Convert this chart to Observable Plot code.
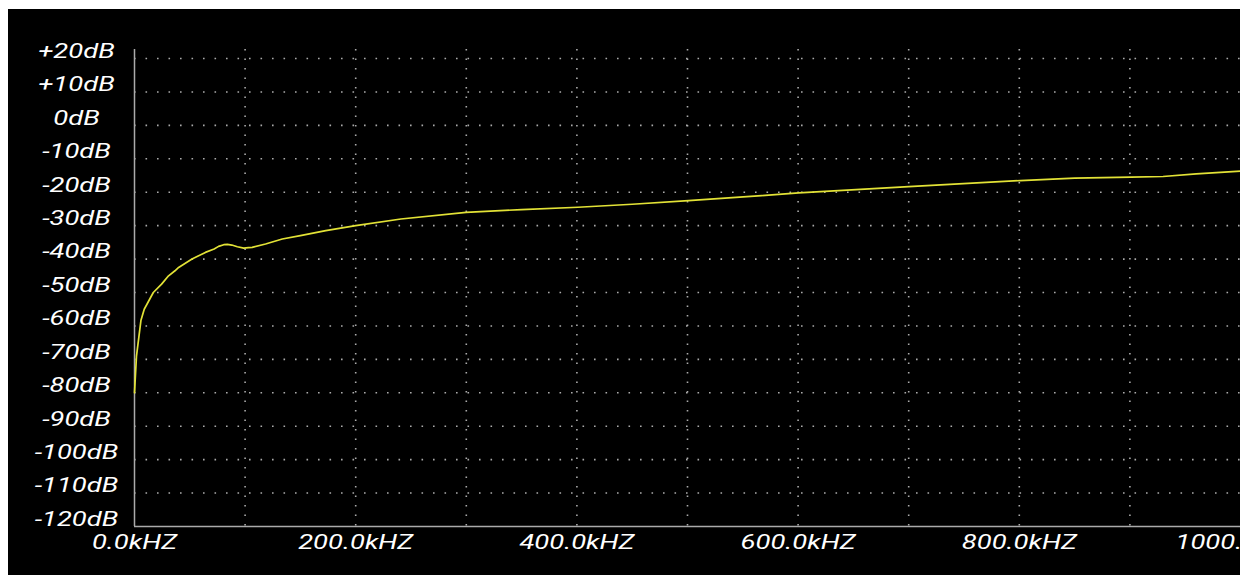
<!DOCTYPE html>
<html>
<head>
<meta charset="utf-8">
<script src="https://cdn.jsdelivr.net/npm/d3@7"></script>
<script src="https://cdn.jsdelivr.net/npm/@observablehq/plot@0.6"></script>
<style>
  html, body { margin: 0; padding: 0; background: white; overflow: hidden; }
  #chart { position: absolute; left: 8px; top: 9px; }
</style>
</head>
<body>
<div id="chart"></div>
<script>
// Frequency response (kHz -> dB)
const freqKHz = [0, 1.8, 5.8, 8.8, 17, 24.5, 30.8, 36.6, 39.9, 52, 64.1, 72, 76, 80.7, 84, 88, 93, 98.8, 103, 106.4, 118.5, 133.6, 150, 172.9, 200, 240.9, 299.8, 350, 401, 450, 500.8, 567, 600.5, 700, 801, 850, 901, 930, 960, 1000];
const gainDB  = [-80, -69, -58.4, -55, -50, -47.5, -45, -43.5, -42.5, -40, -38, -37, -36.2, -35.7, -35.6, -35.8, -36.3, -36.7, -36.6, -36.5, -35.5, -34, -33, -31.5, -30, -28, -26, -25.2, -24.5, -23.6, -22.5, -21, -20.2, -18.3, -16.5, -15.8, -15.5, -15.3, -14.5, -13.7];

const yTicks = [20, 10, 0, -10, -20, -30, -40, -50, -60, -70, -80, -90, -100, -110, -120];
const yTickLabels = ["+20dB", "+10dB", "0dB", "-10dB", "-20dB", "-30dB", "-40dB", "-50dB", "-60dB", "-70dB", "-80dB", "-90dB", "-100dB", "-110dB", "-120dB"];
const xTicks = [0, 200, 400, 600, 800, 1000];
const xTickLabels = ["0.0kHZ", "200.0kHZ", "400.0kHZ", "600.0kHZ", "800.0kHZ", "1000.0kHZ"];
const xGrid = [100, 200, 300, 400, 500, 600, 700, 800, 900];
const yGrid = [20, 10, 0, -10, -20, -30, -40, -50, -60, -70, -80, -90, -100, -110];

const data = freqKHz.map((f, i) => ({f, db: gainDB[i]}));

const labelFont = {fontSize: 20, fontStyle: "italic", fontFamily: "Roboto", fill: "white"};

const chart = Plot.plot({
  width: 1240,
  height: 566,
  marginLeft: 126,
  marginRight: 8,
  marginTop: 40,
  marginBottom: 49,
  style: {background: "black", maxWidth: "none", overflow: "visible", fontFamily: "Roboto"},
  x: {domain: [0, 1000], axis: null},
  y: {domain: [-120, 22.7], axis: null},
  marks: [
    Plot.gridY(yGrid, {stroke: "#aaa", strokeOpacity: 1, strokeWidth: 1.6, strokeDasharray: "1.6,9.9"}),
    Plot.gridX(xGrid, {stroke: "#aaa", strokeOpacity: 1, strokeWidth: 1.6, strokeDasharray: "1.6,7.9"}),
    Plot.ruleX([0], {stroke: "#aaa", strokeWidth: 1.5}),
    Plot.ruleY([-120], {stroke: "#aaa", strokeWidth: 1.5}),
    Plot.line(data, {x: "f", y: "db", stroke: "#e2e236", strokeWidth: 1.7}),
    Plot.text(yTicks, {y: d => d, text: (d, i) => yTickLabels[i], frameAnchor: "left", dx: -58, dy: -7, textAnchor: "middle", lineAnchor: "middle", ...labelFont}),
    Plot.text(xTicks, {x: d => d, text: (d, i) => xTickLabels[i], frameAnchor: "bottom", dy: 22.5, textAnchor: "middle", lineAnchor: "bottom", ...labelFont})
  ]
});

// widen the tick label glyphs horizontally like the reference
chart.querySelectorAll('g[aria-label="text"] text').forEach(t => {
  const tr = t.getAttribute("transform") || "";
  t.setAttribute("transform", (tr + " scale(1.37,1)").trim());
});

document.getElementById("chart").appendChild(chart);
</script>
</body>
</html>
